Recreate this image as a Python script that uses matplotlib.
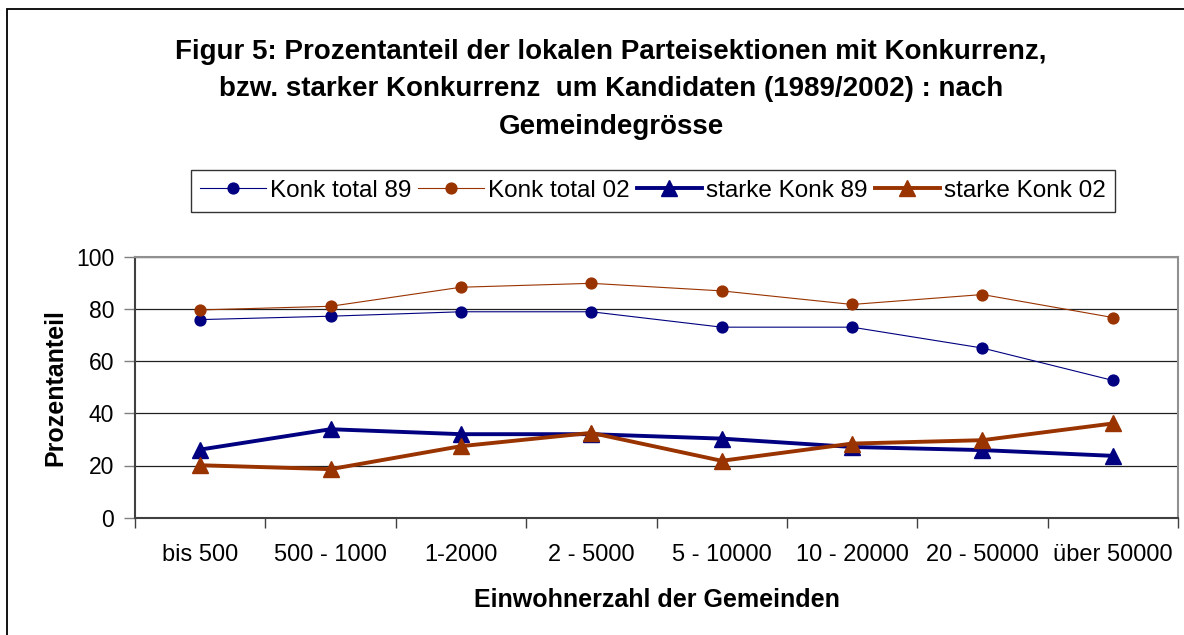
import matplotlib.pyplot as plt
from matplotlib.patches import Rectangle

plt.rcParams['font.family'] = ['Liberation Sans', 'DejaVu Sans']

# Gemeindegrössen (Kategorien auf der x-Achse)
kategorien = ['bis 500', '500 - 1000', '1-2000', '2 - 5000', '5 - 10000',
              '10 - 20000', '20 - 50000', 'über 50000']

# Prozentanteile je Reihe
konk_total_89 = [75.9, 77.2, 78.9, 78.9, 73.0, 73.0, 65.0, 52.6]
konk_total_02 = [79.6, 81.0, 88.3, 89.8, 86.9, 81.7, 85.5, 76.7]
starke_konk_89 = [26.1, 33.9, 32.0, 32.0, 30.3, 27.1, 25.9, 23.7]
starke_konk_02 = [20.1, 18.6, 27.4, 32.5, 21.8, 28.4, 29.7, 36.1]

blau = '#000080'
braun = '#993300'

W, H = 1184, 635
fig = plt.figure(figsize=(W / 100, H / 100), dpi=100)

# Rahmen um die ganze Grafik
fig.patches.append(Rectangle((7 / W, -0.1), 1.2, 1 - 9 / H + 0.1,
                             transform=fig.transFigure, fill=False,
                             edgecolor='black', linewidth=1.3))

ax = fig.add_axes([135 / W, 1 - 517.7 / H, (1178 - 135) / W, (517.7 - 256.7) / H])

x = list(range(len(kategorien)))
ax.plot(x, konk_total_89, color=blau, lw=0.8, marker='o', ms=7.8,
        label='Konk total 89')
ax.plot(x, konk_total_02, color=braun, lw=0.8, marker='o', ms=7.8,
        label='Konk total 02')
ax.plot(x, starke_konk_89, color=blau, lw=2.8, marker='^', ms=11,
        label='starke Konk 89')
ax.plot(x, starke_konk_02, color=braun, lw=2.8, marker='^', ms=11,
        label='starke Konk 02')

ax.set_xlim(-0.5, len(kategorien) - 0.5)
ax.set_ylim(0, 100)
ax.set_yticks(range(0, 101, 20))
ax.yaxis.grid(True, color='#202020', lw=0.9)
ax.set_axisbelow(True)

# Beschriftungen mittig, Teilstriche zwischen den Kategorien
ax.set_xticks(x)
ax.set_xticklabels(kategorien)
ax.set_xticks([i - 0.5 for i in range(len(kategorien) + 1)], minor=True)
ax.tick_params(axis='x', which='major', length=0, pad=19, labelsize=17)
ax.tick_params(axis='x', which='minor', length=7, width=1, color='#404040')
ax.tick_params(axis='y', length=8, width=1, color='#808080', labelsize=16.5, pad=7)

for side in ['left', 'bottom']:
    ax.spines[side].set_color('#404040')
    ax.spines[side].set_linewidth(1.5)
for side in ['top', 'right']:
    ax.spines[side].set_color('#909090')
    ax.spines[side].set_linewidth(1.5)

ax.set_xlabel('Einwohnerzahl der Gemeinden', fontsize=18, fontweight='bold', labelpad=16)
ax.set_ylabel('Prozentanteil', fontsize=18, fontweight='bold', labelpad=6)

fig.text(611 / W, 1 - 89.5 / H,
         'Figur 5: Prozentanteil der lokalen Parteisektionen mit Konkurrenz,\n'
         'bzw. starker Konkurrenz  um Kandidaten (1989/2002) : nach\n'
         'Gemeindegrösse',
         ha='center', va='center', fontsize=20, fontweight='bold', linespacing=1.58)

leg = fig.legend(loc='center', bbox_to_anchor=(653 / W, 1 - 191 / H), ncol=4,
                 fontsize=17.5, frameon=True, fancybox=False, edgecolor='black',
                 handlelength=2.7, handletextpad=0.15, columnspacing=0.3,
                 borderpad=0.4, borderaxespad=0)
leg.get_frame().set_linewidth(1.0)

fig.savefig('out.png', dpi=100)
